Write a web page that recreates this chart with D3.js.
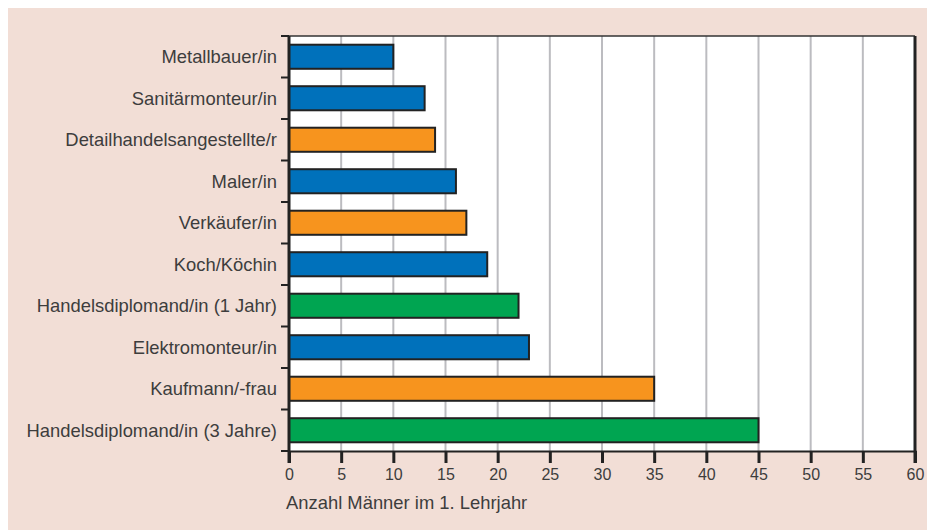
<!DOCTYPE html>
<html>
<head>
<meta charset="utf-8">
<script src="https://cdn.jsdelivr.net/npm/d3@7"></script>
<style>
  body { margin: 0; background: #fff; }
  text { font-family: "Liberation Sans", Arial, sans-serif; fill: #3d3d3d; }
</style>
</head>
<body>
<div id="chart"></div>
<script>
// data, top to bottom
const berufe = [
  "Metallbauer/in",
  "Sanitärmonteur/in",
  "Detailhandelsangestellte/r",
  "Maler/in",
  "Verkäufer/in",
  "Koch/Köchin",
  "Handelsdiplomand/in (1 Jahr)",
  "Elektromonteur/in",
  "Kaufmann/-frau",
  "Handelsdiplomand/in (3 Jahre)"
];
const anzahl = [10, 13, 14, 16, 17, 19, 22, 23, 35, 45];
const gruppe = ["b", "b", "o", "b", "o", "b", "g", "b", "o", "g"];
const xTicks = [0, 5, 10, 15, 20, 25, 30, 35, 40, 45, 50, 55, 60];
const xTitle = "Anzahl Männer im 1. Lehrjahr";

const colors = { b: "#0071bb", o: "#f7941e", g: "#00a551" };

const W = 927, H = 531;
const margin = { top: 36, right: 12, bottom: 80, left: 289 };
const plotW = W - margin.left - margin.right,
      plotH = H - margin.top - margin.bottom;

const svg = d3.select("#chart").append("svg")
    .attr("width", W)
    .attr("height", H);

// pink panel
svg.append("rect")
    .attr("x", 8).attr("y", 8)
    .attr("width", W - 8).attr("height", 522)
    .attr("fill", "#f2ded6");

const g = svg.append("g")
    .attr("transform", `translate(${margin.left},${margin.top})`);

const x = d3.scaleLinear().domain([0, 60]).range([0, plotW]);
const y = d3.scaleBand().domain(berufe).range([0, plotH]).paddingInner(0.42).paddingOuter(0.21);
const yEdge = d3.scaleLinear().domain([0, berufe.length]).range([0, plotH]);

// white plot area
g.append("rect")
    .attr("width", plotW).attr("height", plotH)
    .attr("fill", "#fff");

// gridlines
g.selectAll(".grid").data(xTicks.slice(1, -1)).join("line")
    .attr("x1", d => x(d)).attr("x2", d => x(d))
    .attr("y1", 0).attr("y2", plotH)
    .attr("stroke", "#bcbcc0").attr("stroke-width", 2);

// bars
g.selectAll(".bar").data(anzahl).join("rect")
    .attr("x", x(0))
    .attr("y", (d, i) => y(berufe[i]))
    .attr("width", d => x(d) - x(0))
    .attr("height", y.bandwidth())
    .attr("fill", (d, i) => colors[gruppe[i]])
    .attr("stroke", "#222").attr("stroke-width", 2);

// top border
g.append("line")
    .attr("x1", -4).attr("x2", plotW)
    .attr("y1", 0).attr("y2", 0)
    .attr("stroke", "#333").attr("stroke-width", 1.5);

// bottom axis
const xAxis = g.append("g")
    .attr("transform", `translate(0,${plotH})`)
    .call(d3.axisBottom(x).tickValues(xTicks).tickSize(12).tickPadding(6));
xAxis.select(".domain").attr("stroke", "#222").attr("stroke-width", 2);
xAxis.selectAll(".tick line").attr("stroke", "#222").attr("stroke-width", 3);
xAxis.selectAll(".tick text")
    .attr("font-size", 16)
    .attr("font-family", "Liberation Sans, Arial, sans-serif")
    .attr("fill", "#3d3d3d");

// right border
g.append("line")
    .attr("x1", plotW).attr("x2", plotW)
    .attr("y1", 0).attr("y2", plotH + 12)
    .attr("stroke", "#222").attr("stroke-width", 3);

// left axis with ticks at band edges
g.selectAll(".ytick").data(d3.range(berufe.length + 1)).join("line")
    .attr("x1", -8).attr("x2", 0)
    .attr("y1", d => yEdge(d)).attr("y2", d => yEdge(d))
    .attr("stroke", "#222").attr("stroke-width", 2);
g.append("line")
    .attr("x1", 0).attr("x2", 0)
    .attr("y1", 0).attr("y2", plotH + 12)
    .attr("stroke", "#222").attr("stroke-width", 3);

// category labels
g.selectAll(".lbl").data(berufe).join("text")
    .attr("x", -12)
    .attr("y", d => y(d) + y.bandwidth() / 2)
    .attr("dy", "0.35em")
    .attr("text-anchor", "end")
    .attr("font-size", 18.4)
    .text(d => d);

// axis title
svg.append("text")
    .attr("x", 286).attr("y", 503)
    .attr("dy", "0.35em")
    .attr("font-size", 18.4)
    .text(xTitle);
</script>
</body>
</html>
